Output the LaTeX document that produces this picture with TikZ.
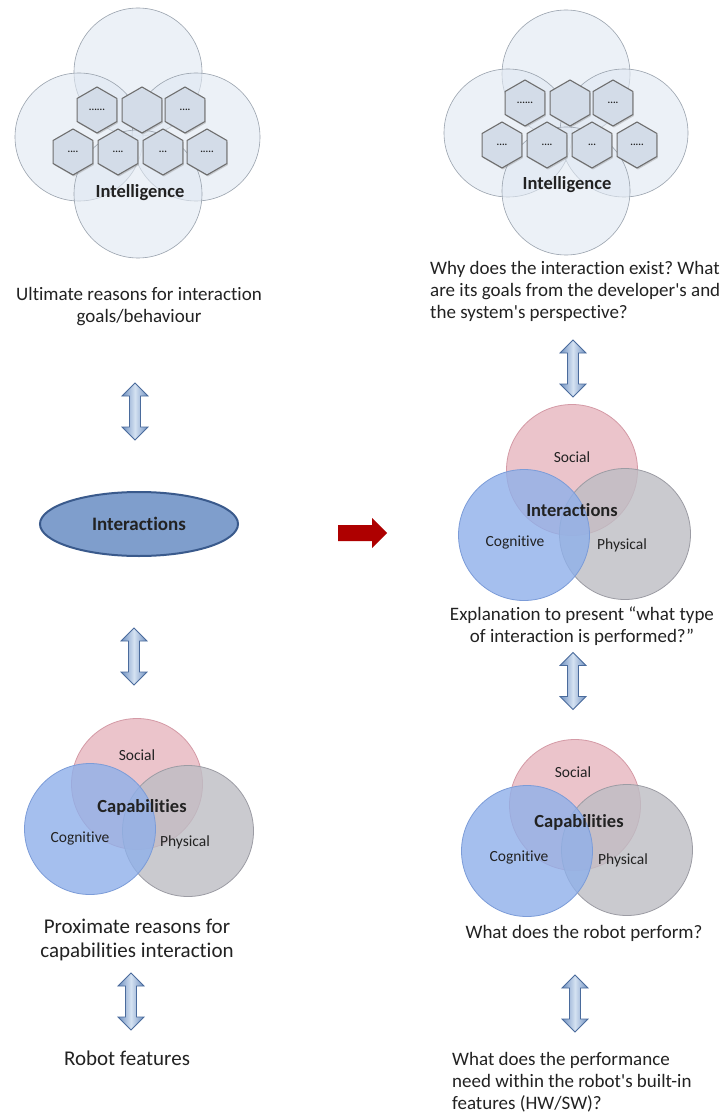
\documentclass[tikz,border=0pt]{standalone}
\usepackage{fontspec}
\setmainfont{Carlito}[Ligatures={NoCommon}]
\frenchspacing
\usetikzlibrary{shapes.geometric,shadows}
\definecolor{txt}{HTML}{222222}
\definecolor{intfill}{HTML}{E0E8F2}
\definecolor{intdraw}{HTML}{9AA3AE}
\definecolor{hexfill}{HTML}{D3DCE8}
\definecolor{hexdraw}{HTML}{6E6E6E}
\definecolor{socfill}{HTML}{E7B6BF}
\definecolor{socdraw}{HTML}{D49AA6}
\definecolor{cogfill}{HTML}{8FB0EA}
\definecolor{cogdraw}{HTML}{7C9CD8}
\definecolor{phyfill}{HTML}{BDBDC4}
\definecolor{phydraw}{HTML}{9C9CA4}
\definecolor{ellfill}{HTML}{7F9ECC}
\definecolor{elldraw}{HTML}{3A5A8C}
\definecolor{arrlt}{HTML}{D5E2F2}
\definecolor{arrdk}{HTML}{6F90C0}
\definecolor{arredge}{HTML}{4A6B9C}
\definecolor{redarr}{HTML}{AE0000}
\tikzset{
  intcirc/.style={circle, minimum size=128, inner sep=0, fill=intfill, fill opacity=0.6, draw=intdraw, line width=0.6},
  hexa/.style={regular polygon, regular polygon sides=6, shape border rotate=30, minimum size=46, inner sep=0,
    fill=hexfill, draw=hexdraw, line width=1.1, drop shadow={opacity=0.35, shadow xshift=1pt, shadow yshift=-1.5pt},
    font=\fontsize{10}{10}\selectfont\bfseries, text=txt},
  venn/.style={circle, minimum size=131, inner sep=0, line width=0.8, fill opacity=0.8},
  soc/.style={venn, fill=socfill, draw=socdraw},
  cog/.style={venn, fill=cogfill, draw=cogdraw},
  phy/.style={venn, fill=phyfill, draw=phydraw},
  vlab/.style={font=\fontsize{15.5}{18}\selectfont, text=txt, inner sep=0},
  vbold/.style={font=\fontsize{18.5}{20}\selectfont\bfseries, text=txt, inner sep=0},
  ell/.style={ellipse, minimum width=198, minimum height=64, fill=ellfill, draw=elldraw, line width=2,
    font=\fontsize{19}{22}\selectfont\bfseries, text=txt},
  tnine/.style={font=\fontsize{19}{22}\selectfont, text=txt, inner sep=0},
  tbig/.style={font=\fontsize{21}{24}\selectfont, text=txt, inner sep=0},
  updown/.pic={
    \shadedraw[left color=arrdk, right color=arrdk, middle color=arrlt, draw=arredge, line width=0.8]
      (0,-28.5) -- (13,-15.5) -- (5.5,-15.5) -- (5.5,15.5) -- (13,15.5) -- (0,28.5)
      -- (-13,15.5) -- (-5.5,15.5) -- (-5.5,-15.5) -- (-13,-15.5) -- cycle;
  }
}
\begin{document}
\begin{tikzpicture}[x=1pt,y=-1pt]
\useasboundingbox[fill=white] (0,0) rectangle (724,1115);

% ---------- left intelligence cluster ----------
\node[intcirc] (lc1) at (138,72) {};
\node[intcirc] (lc2) at (79,137) {};
\node[intcirc] (lc3) at (196,137) {};
\node[intcirc] (lc4) at (138,194) {};
\node[hexa] (lh1) at (97,110) {......};
\node[hexa] (lh2) at (142,110) {};
\node[hexa] (lh3) at (185,110) {....};
\node[hexa] (lh4) at (73,152) {....};
\node[hexa] (lh5) at (118,152) {....};
\node[hexa] (lh6) at (163,152) {...};
\node[hexa] (lh7) at (207,152) {.....};
\node[vbold] (lint) at (140,193) {Intelligence};

% ---------- right intelligence cluster ----------
\node[intcirc] (rc1) at (566,74) {};
\node[intcirc] (rc2) at (508,133) {};
\node[intcirc] (rc3) at (624,133) {};
\node[intcirc] (rc4) at (566,191) {};
\node[hexa] (rh1) at (525,103) {......};
\node[hexa] (rh2) at (570,103) {};
\node[hexa] (rh3) at (613,103) {....};
\node[hexa] (rh4) at (502,145) {....};
\node[hexa] (rh5) at (547,145) {....};
\node[hexa] (rh6) at (592,145) {...};
\node[hexa] (rh7) at (637,145) {.....};
\node[vbold] (rint) at (567,185) {Intelligence};

% ---------- left column texts ----------
\node[tnine, align=center] (ult) at (139,306.5) {Ultimate reasons for interaction\\goals/behaviour};
\pic (la1) at (135,411.5) {updown};
\node[ell] (inter) at (139,524) {Interactions};
\pic (la2) at (134,656.5) {updown};

% left capabilities venn
\node[soc] (lsoc) at (137,784) {};
\node[phy] (lphy) at (188,831) {};
\node[cog] (lcog) at (90,829) {};
\node[vlab] at (137,755) {Social};
\node[vbold] (lcap) at (142,807) {Capabilities};
\node[vlab] at (80,838) {Cognitive};
\node[vlab] at (185,842) {Physical};

\node[tbig, align=center] (prox) at (137,939.5) {Proximate reasons for\\capabilities interaction};
\pic (la3) at (131,1001.5) {updown};
\node[tbig] (robot) at (127,1058) {Robot features};

% ---------- red arrow ----------
\fill[redarr] (338,525) -- (372,525) -- (372,518) -- (387,533) -- (372,548) -- (372,541) -- (338,541) -- cycle;

% ---------- right column ----------
\node[tnine, align=left, anchor=west] (why) at (430,291) {Why does the interaction exist? What\\are its goals from the developer\textquotesingle s and\\the system\textquotesingle s perspective?};
\pic (ra1) at (573,368.5) {updown};

\node[soc] (rsoc1) at (572,470) {};
\node[phy] (rphy1) at (625,534) {};
\node[cog] (rcog1) at (524,535) {};
\node[vlab] at (572,457) {Social};
\node[vbold] (rinter) at (572,510) {Interactions};
\node[vlab] at (515,542) {Cognitive};
\node[vlab] at (622,545) {Physical};

\node[tnine, align=center] (expl) at (582,626) {Explanation to present “what type\\of interaction is performed?”};
\pic (ra2) at (573,681) {updown};

\node[soc] (rsoc2) at (575,805) {};
\node[phy] (rphy2) at (627,850) {};
\node[cog] (rcog2) at (527,851) {};
\node[vlab] at (573,772) {Social};
\node[vbold] (rcap) at (579,822) {Capabilities};
\node[vlab] at (519,857) {Cognitive};
\node[vlab] at (623,860) {Physical};

\node[tnine] (perf) at (584,933) {What does the robot perform?};
\pic (ra3) at (575,1003.5) {updown};
\node[tnine, align=left, anchor=west] (need) at (452,1082) {What does the performance\\need within the robot\textquotesingle s built-in\\features (HW/SW)?};
\end{tikzpicture}
\end{document}
